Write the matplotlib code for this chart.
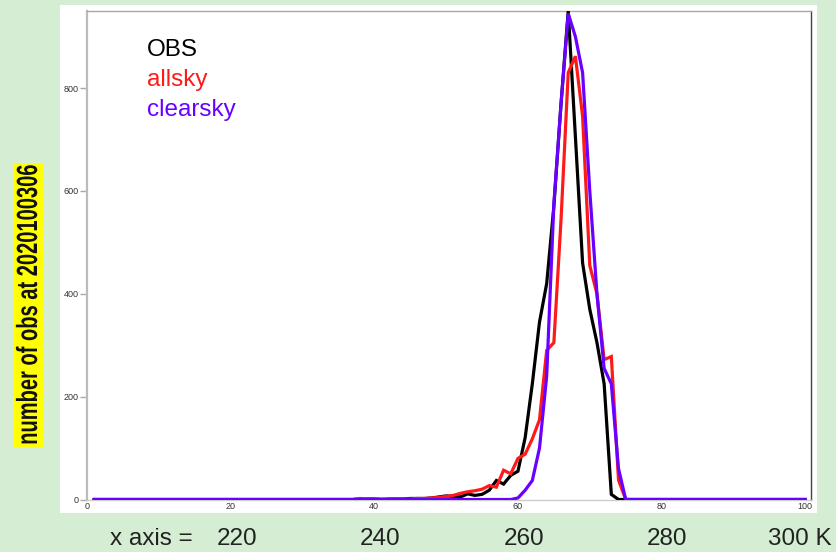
import numpy as np
import matplotlib
matplotlib.use("Agg")
import matplotlib.pyplot as plt
from matplotlib.patches import Rectangle
from matplotlib.patheffects import AbstractPathEffect
from matplotlib.transforms import Affine2D

# Histogram bins (1 K wide), index = temperature - 200 K
bins = np.arange(1, 101)
first_bin = 38

obs_counts = [1, 1, 1, 0, 1, 1, 1, 2, 2, 2, 3, 5, 7, 6, 5, 11, 8, 10, 18, 37,
              30, 47, 55, 120, 225, 345, 420, 570, 770, 950, 705, 460, 370,
              305, 225, 10, 0]
allsky_counts = [2, 1, 1, 1, 0, 1, 1, 1, 2, 2, 3, 4, 6, 8, 12, 15, 17, 20, 27,
                 24, 57, 50, 80, 88, 118, 155, 290, 305, 545, 830, 862, 745,
                 455, 400, 272, 278, 38, 0]
clearsky_counts = [0] * 21 + [0, 3, 18, 37, 100, 240, 575, 770, 945, 900, 830,
                              600, 400, 255, 225, 60, 0]

series_names = ["OBS", "allsky", "clearsky"]
series_colors = ["#000000", "#ff1a1a", "#6a00ff"]
x_ticks = [0, 20, 40, 60, 80, 100]
y_ticks = [0, 200, 400, 600, 800]
kelvin_labels = ["220", "240", "260", "280", "300 K"]
ylabel_text = "number of obs at 2020100306"


def full_series(values):
    arr = np.zeros(len(bins))
    arr[first_bin - 1:first_bin - 1 + len(values)] = values
    return arr


series = [full_series(v) for v in (obs_counts, allsky_counts, clearsky_counts)]


class Squeeze(AbstractPathEffect):
    """Compress a text's outline vertically (display space) about its centre."""

    def __init__(self, factor=1.0):
        super().__init__()
        self.factor = factor

    def draw_path(self, renderer, gc, tpath, affine, rgbFace=None):
        ext = tpath.get_extents(affine)
        cy = 0.5 * (ext.y0 + ext.y1)
        squeeze = Affine2D().translate(0, -cy).scale(1, self.factor).translate(0, cy)
        renderer.draw_path(gc, tpath, affine + squeeze, rgbFace)


W, H = 836, 552
fig = plt.figure(figsize=(W / 100, H / 100), dpi=100, facecolor="#d5eed3")


def fx(px):
    return px / W


def fy(py):
    return 1 - py / H


# white panel behind the plot
fig.patches.append(Rectangle((fx(60), fy(513)), fx(817 - 60), (513 - 5) / H,
                             transform=fig.transFigure, facecolor="white",
                             edgecolor="none", zorder=-5))

ax = fig.add_axes([fx(87), fy(499.5), fx(811 - 87), (499.5 - 11) / H])
ax.set_facecolor("white")
ax.set_zorder(2)

for y, c in zip(series, series_colors):
    ax.plot(bins, y, color=c, lw=2.3, solid_joinstyle="miter", zorder=3)

ax.set_xlim(0, 100.8)
ax.set_ylim(0, max(obs_counts))
ax.set_xticks(x_ticks)
ax.set_yticks(y_ticks)
tick_font = dict(family=["Liberation Sans", "DejaVu Sans"], size=6.5)
ax.set_xticklabels([str(t) for t in x_ticks], **tick_font, color="#333333")
ax.set_yticklabels([str(t) for t in y_ticks], **tick_font, color="#333333")
ax.tick_params(axis="x", length=0, pad=2)
ax.tick_params(axis="y", length=5, width=1, color="#aaaaaa", pad=1)

ax.spines["left"].set_color("#bbbbbb")
ax.spines["bottom"].set_color("#cccccc")
ax.spines["top"].set_color("#a8a8a8")
ax.spines["right"].set_color("#444444")
for s in ax.spines.values():
    s.set_linewidth(1.0)
ax.spines["left"].set_linewidth(1.6)

# series labels
label_font = ["Liberation Sans", "DejaVu Sans"]
for name, c, py in zip(series_names, series_colors, [50, 80, 110]):
    fig.text(fx(147), fy(py), name, color=c, fontsize=17.5, family=label_font,
             ha="left", va="center", zorder=5)

# y-axis title on yellow background
fig.patches.append(Rectangle((fx(14), fy(447)), fx(43 - 14), (447 - 163) / H,
                             transform=fig.transFigure, facecolor="#ffff00",
                             edgecolor="none", zorder=1))
squeeze = Squeeze(1.0)
ytitle = fig.text(fx(29), fy(305), ylabel_text, rotation=90, ha="center",
                  va="center", fontsize=21, fontweight="bold", color="#111111",
                  family=["Liberation Sans", "DejaVu Sans"], zorder=2,
                  path_effects=[squeeze])

# kelvin scale under the axis
fig.text(fx(110), fy(539), "x axis =", fontsize=17.5, family=label_font,
         color="#222222", ha="left", va="center")
for t, lab in zip(x_ticks[1:], kelvin_labels):
    xp = 87 + t * 7.18
    if lab.endswith("K"):
        fig.text(fx(832), fy(539), lab, fontsize=17.5, family=label_font,
                 color="#222222", ha="right", va="center")
    else:
        fig.text(fx(xp + 6), fy(539), lab, fontsize=17.5, family=label_font,
                 color="#222222", ha="center", va="center")

# fit the condensed title to the yellow strip
fig.canvas.draw()
title_len = ytitle.get_window_extent().height
squeeze.factor = 280.0 / title_len

fig.savefig("out.png", dpi=100, facecolor=fig.get_facecolor())
